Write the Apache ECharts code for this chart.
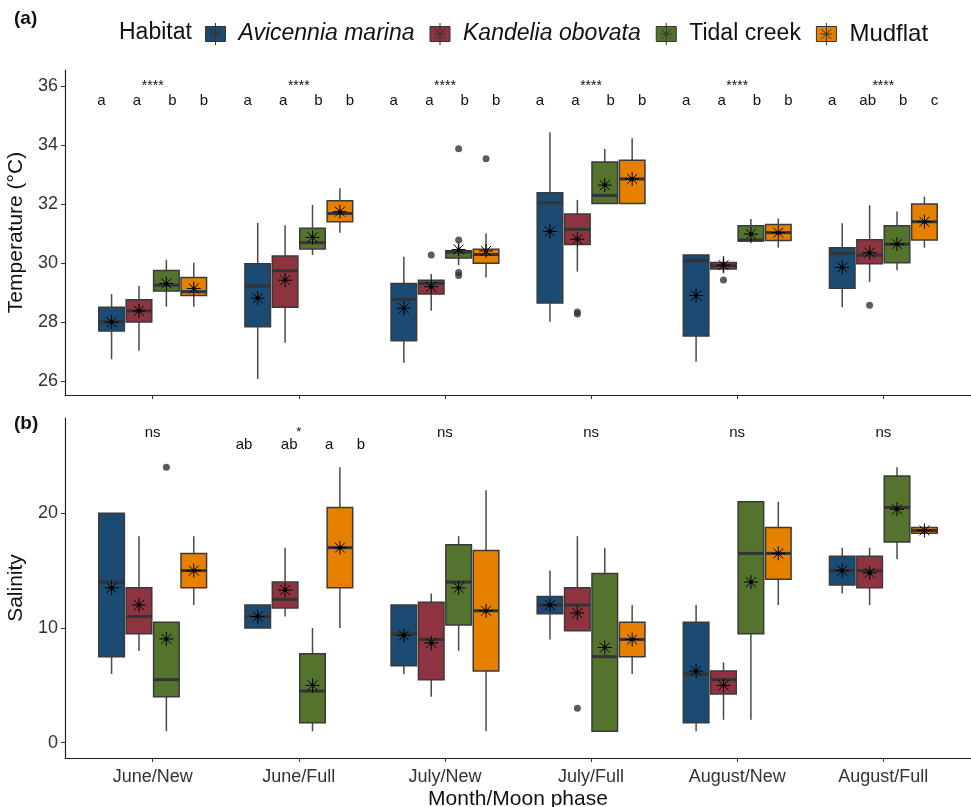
<!DOCTYPE html>
<html>
<head>
<meta charset="utf-8">
<script src="https://cdn.jsdelivr.net/npm/echarts@6/dist/echarts.min.js"></script>
<style>
html, body { margin: 0; padding: 0; background: #fff; }
#chart { width: 971px; height: 807px; }
</style>
</head>
<body>
<div id="chart"></div>
<script>
var months = ['June/New', 'June/Full', 'July/New', 'July/Full', 'August/New', 'August/Full'];
var habitats = ['Avicennia marina', 'Kandelia obovata', 'Tidal creek', 'Mudflat'];
var habitat_colors = ['#1b4a72', '#8d3440', '#54742d', '#e68100'];

// temperature boxes: [low whisker, Q1, median, Q3, high whisker] per month/moon phase
var temp_avicennia = [[26.74, 27.7, 28.01, 28.5, 28.95], [26.07, 27.84, 29.22, 29.98, 31.36], [26.62, 27.37, 28.77, 29.31, 30.21],
    [28.01, 28.65, 32.04, 32.38, 34.43], [26.66, 27.53, 30.08, 30.27, 30.27], [28.5, 29.15, 30.33, 30.52, 31.35]];
var temp_kandelia = [[27.03, 28.0, 28.38, 28.76, 29.23], [27.3, 28.5, 29.74, 30.24, 31.28], [28.38, 28.95, 29.31, 29.42, 29.63],
    [29.71, 30.63, 31.14, 31.66, 32.14], [29.65, 29.8, 29.91, 30.02, 30.24], [29.36, 29.98, 30.27, 30.79, 31.96]];
var temp_creek = [[28.52, 29.05, 29.25, 29.75, 30.11], [30.27, 30.48, 30.69, 31.18, 31.97], [29.93, 30.17, 30.37, 30.42, 30.61],
    [32.02, 32.02, 32.29, 33.42, 33.86], [30.67, 30.75, 30.78, 31.26, 31.49], [29.76, 30.01, 30.64, 31.26, 31.75]];
var temp_mudflat = [[28.52, 28.9, 29.03, 29.51, 30.01], [31.03, 31.4, 31.68, 32.11, 32.53], [29.51, 29.99, 30.29, 30.47, 31.0],
    [32.02, 32.02, 32.85, 33.48, 34.23], [30.52, 30.76, 31.03, 31.31, 31.51], [30.52, 30.78, 31.4, 32.0, 32.25]];
var temp_means = [[28.0, 28.81, 28.47, 31.07, 28.9, 29.85], [28.38, 29.42, 29.2, 30.81, 29.93, 30.35],
    [29.31, 30.87, 30.46, 32.64, 30.98, 30.64], [29.14, 31.74, 30.41, 32.85, 31.03, 31.4]];
// outliers: [habitat, month index, value]
var temp_outliers = [[1, 2, 30.27], [1, 3, 28.34], [1, 3, 28.27], [1, 4, 29.43], [1, 5, 28.57],
    [2, 2, 33.87], [2, 2, 30.78], [2, 2, 29.68], [2, 2, 29.58], [3, 2, 33.53]];

// salinity boxes
var sal_avicennia = [[6, 7.5, 14, 20, 20], [10, 10, 11, 12, 12], [6, 6.7, 9.5, 12, 12],
    [9, 11.25, 12, 12.75, 15], [1, 1.75, 6, 10.5, 12], [13, 13.75, 15, 16.25, 17]];
var sal_kandelia = [[8, 9.5, 11, 13.5, 18], [11, 11.75, 12.5, 14, 17], [4, 5.5, 9, 12.25, 13],
    [9.75, 9.75, 12, 13.5, 18], [2, 4.25, 5.5, 6.25, 7], [12, 13.5, 15, 16.25, 17]];
var sal_creek = [[1, 4, 5.5, 10.5, 10.5], [1, 1.75, 4.5, 7.75, 10], [8, 10.25, 14, 17.25, 18],
    [1, 1, 7.5, 14.75, 17], [2, 9.5, 16.5, 21, 21], [16, 17.5, 20.5, 23.25, 24]];
var sal_mudflat = [[12, 13.5, 15, 16.5, 18], [10, 13.5, 17, 20.5, 24], [1, 6.25, 11.5, 16.75, 22],
    [6, 7.5, 9, 10.5, 12], [12, 14.25, 16.5, 18.75, 21], [18.25, 18.25, 18.5, 18.75, 18.75]];
var sal_means = [[13.5, 11, 9.35, 12, 6.25, 15], [12, 13.3, 8.7, 11.3, 5, 14.8],
    [9.05, 5, 13.5, 8.3, 14, 20.35], [15, 17, 11.5, 9, 16.5, 18.5]];
var sal_outliers = [[2, 0, 24], [1, 3, 3]];

// significance labels
var temp_sig = ['****', '****', '****', '****', '****', '****'];
var temp_letters = [['a', 'a', 'b', 'b'], ['a', 'a', 'b', 'b'], ['a', 'a', 'b', 'b'],
    ['a', 'a', 'b', 'b'], ['a', 'a', 'b', 'b'], ['a', 'ab', 'b', 'c']];
var sal_sig = ['ns', '*', 'ns', 'ns', 'ns', 'ns'];
var sal_letters = [null, ['ab', 'ab', 'a', 'b'], null, null, null, null];

var font = "'Liberation Sans', Arial, sans-serif";
var dodge = [-0.28125, -0.09375, 0.09375, 0.28125];
var box_w = 0.175;
var temp_letter_dx = [-0.35, -0.107, 0.135, 0.35];
var sal_letter_dx = [-0.375, -0.066, 0.208, 0.425];

var chart = echarts.init(document.getElementById('chart'));

function render_box(params, api) {
    var x = api.value(0);
    var low = api.coord([x, api.value(1)]);
    var q1 = api.coord([x, api.value(2)]);
    var med = api.coord([x, api.value(3)]);
    var q3 = api.coord([x, api.value(4)]);
    var high = api.coord([x, api.value(5)]);
    var mean = api.coord([x, api.value(6)]);
    var half = api.size([box_w, 0])[0] / 2;
    var cx = q1[0];
    var r = 7, d = r * 0.707;
    var wstyle = { stroke: '#4a4a4a', lineWidth: 1.5 };
    var sstyle = { stroke: '#000', lineWidth: 1 };
    return {
        type: 'group',
        children: [
            { type: 'line', shape: { x1: cx, y1: low[1], x2: cx, y2: q1[1] }, style: wstyle },
            { type: 'line', shape: { x1: cx, y1: q3[1], x2: cx, y2: high[1] }, style: wstyle },
            { type: 'rect', shape: { x: cx - half, y: q3[1], width: half * 2, height: Math.max(q1[1] - q3[1], 1) },
              style: { fill: api.visual('color'), stroke: '#3a3a3a', lineWidth: 1.5 } },
            { type: 'line', shape: { x1: cx - half, y1: med[1], x2: cx + half, y2: med[1] }, style: { stroke: '#333', lineWidth: 3 } },
            // mean: asterisk with a dot
            { type: 'line', shape: { x1: cx - r, y1: mean[1], x2: cx + r, y2: mean[1] }, style: sstyle },
            { type: 'line', shape: { x1: cx, y1: mean[1] - r, x2: cx, y2: mean[1] + r }, style: sstyle },
            { type: 'line', shape: { x1: cx - d, y1: mean[1] - d, x2: cx + d, y2: mean[1] + d }, style: sstyle },
            { type: 'line', shape: { x1: cx - d, y1: mean[1] + d, x2: cx + d, y2: mean[1] - d }, style: sstyle },
            { type: 'circle', shape: { cx: cx, cy: mean[1], r: 2 }, style: { fill: '#000' } }
        ]
    };
}

function box_series(h, rows, means, grid) {
    return {
        name: habitats[h],
        type: 'custom',
        xAxisIndex: grid,
        yAxisIndex: grid,
        itemStyle: { color: habitat_colors[h] },
        encode: { x: 0, y: [1, 2, 3, 4, 5] },
        renderItem: render_box,
        data: rows.map(function (r, i) { return [i + 1 + dodge[h], r[0], r[1], r[2], r[3], r[4], means[i]]; })
    };
}

function outlier_series(list, grid) {
    return {
        name: 'outliers' + grid,
        type: 'scatter',
        xAxisIndex: grid,
        yAxisIndex: grid,
        symbolSize: 7,
        itemStyle: { color: '#333' },
        data: list.map(function (o) { return [o[1] + 1 + dodge[o[0]], o[2]]; })
    };
}

function text_series(items, grid) {
    return {
        name: 'labels' + grid,
        type: 'custom',
        xAxisIndex: grid,
        yAxisIndex: grid,
        renderItem: function (params, api) {
            var p = api.coord([api.value(0), api.value(1)]);
            var it = items[params.dataIndex];
            return {
                type: 'text', x: p[0], y: p[1],
                style: { text: it.t, fill: '#111', fontSize: it.s, fontFamily: font, align: 'center', verticalAlign: 'middle' }
            };
        },
        data: items.map(function (it) { return [it.x, it.y]; })
    };
}

var temp_text = [];
var sal_text = [];
for (var i = 0; i < months.length; i++) {
    temp_text.push({ x: i + 1, y: 36.0, t: temp_sig[i], s: 14 });
    for (var h = 0; h < 4; h++) {
        temp_text.push({ x: i + 1 + temp_letter_dx[h], y: 35.51, t: temp_letters[i][h], s: 15 });
    }
    sal_text.push({ x: i + 1, y: 27.0, t: sal_sig[i], s: sal_sig[i] == '*' ? 13 : 15 });
    if (sal_letters[i]) {
        for (var h = 0; h < 4; h++) {
            sal_text.push({ x: i + 1 + sal_letter_dx[h], y: 26.0, t: sal_letters[i][h], s: 15 });
        }
    }
}

var temp_boxes = [temp_avicennia, temp_kandelia, temp_creek, temp_mudflat];
var sal_boxes = [sal_avicennia, sal_kandelia, sal_creek, sal_mudflat];
var series = [];
for (var h = 0; h < 4; h++) {
    series.push(box_series(h, temp_boxes[h], temp_means[h], 0));
    series.push(box_series(h, sal_boxes[h], sal_means[h], 1));
}
series.push(outlier_series(temp_outliers, 0));
series.push(outlier_series(sal_outliers, 1));
series.push(text_series(temp_text, 0));
series.push(text_series(sal_text, 1));

var tick_vals = [1, 2, 3, 4, 5, 6];
function x_axis(grid, labels) {
    return {
        type: 'value', gridIndex: grid, min: 0.4, max: 6.6,
        name: labels ? 'Month/Moon phase' : '',
        nameLocation: 'middle', nameGap: 31,
        nameTextStyle: { fontSize: 21, color: '#111', fontFamily: font },
        axisLine: { show: true, onZero: false, lineStyle: { color: '#222', width: 1.2 } },
        axisTick: { show: true, customValues: tick_vals, length: 4, lineStyle: { color: '#333' } },
        axisLabel: { show: labels, customValues: tick_vals, margin: 10, fontSize: 18, color: '#333', fontFamily: font,
            formatter: function (v) { return months[Math.round(v) - 1]; } },
        splitLine: { show: false }
    };
}
function y_axis(grid, name, min, max, ticks) {
    return {
        type: 'value', gridIndex: grid, min: min, max: max,
        name: name, nameLocation: 'middle', nameGap: 31,
        nameTextStyle: { fontSize: 21, color: '#111', fontFamily: font },
        axisLine: { show: true, onZero: false, lineStyle: { color: '#222', width: 1.2 } },
        axisTick: { show: true, customValues: ticks, length: 4, lineStyle: { color: '#333' } },
        axisLabel: { customValues: ticks, margin: 7, fontSize: 18, color: '#333', fontFamily: font },
        splitLine: { show: false }
    };
}

var option = {
    animation: false,
    backgroundColor: '#fff',
    title: [
        { text: '(a)', left: 14, top: 9, padding: 0, textStyle: { fontSize: 19, fontWeight: 'bold', color: '#111', fontFamily: font } },
        { text: '(b)', left: 14, top: 414, padding: 0, textStyle: { fontSize: 19, fontWeight: 'bold', color: '#111', fontFamily: font } },
        { text: 'Habitat', left: 119, top: 21, padding: 0, textStyle: { fontSize: 23, fontWeight: 'normal', color: '#111', fontFamily: font } }
    ],
    legend: {
        data: habitats,
        left: 205, top: 22, padding: 0,
        itemWidth: 20, itemHeight: 22, itemGap: 15,
        icon: 'path://M0,3.5H20V18.5H0Z M10,0V22 M4,11H16 M5,6L15,16 M15,6L5,16',
        itemStyle: { borderColor: '#333', borderWidth: 1 },
        formatter: function (name) {
            if (name == 'Mudflat') return '{m|' + name + '}';
            if (name == 'Tidal creek') return '{n|' + name + '}';
            return '{i|' + name + '}';
        },
        textStyle: {
            color: '#111', fontFamily: font,
            rich: {
                i: { fontSize: 23, fontStyle: 'italic', padding: [0, 0, 0, 8], fontFamily: font, color: '#111' },
                n: { fontSize: 23, padding: [0, 0, 0, 8], fontFamily: font, color: '#111' },
                m: { fontSize: 24, padding: [0, 0, 0, 8], fontFamily: font, color: '#111' }
            }
        }
    },
    grid: [
        { left: 65, right: 0, top: 70, height: 325, outerBoundsMode: 'none' },
        { left: 65, right: 0, top: 418, height: 340, outerBoundsMode: 'none' }
    ],
    xAxis: [x_axis(0, false), x_axis(1, true)],
    yAxis: [
        y_axis(0, 'Temperature (°C)', 25.53, 36.54, [26, 28, 30, 32, 34, 36]),
        y_axis(1, 'Salinity', -1.33, 28.3, [0, 10, 20])
    ],
    series: series
};
chart.setOption(option);
</script>
</body>
</html>
